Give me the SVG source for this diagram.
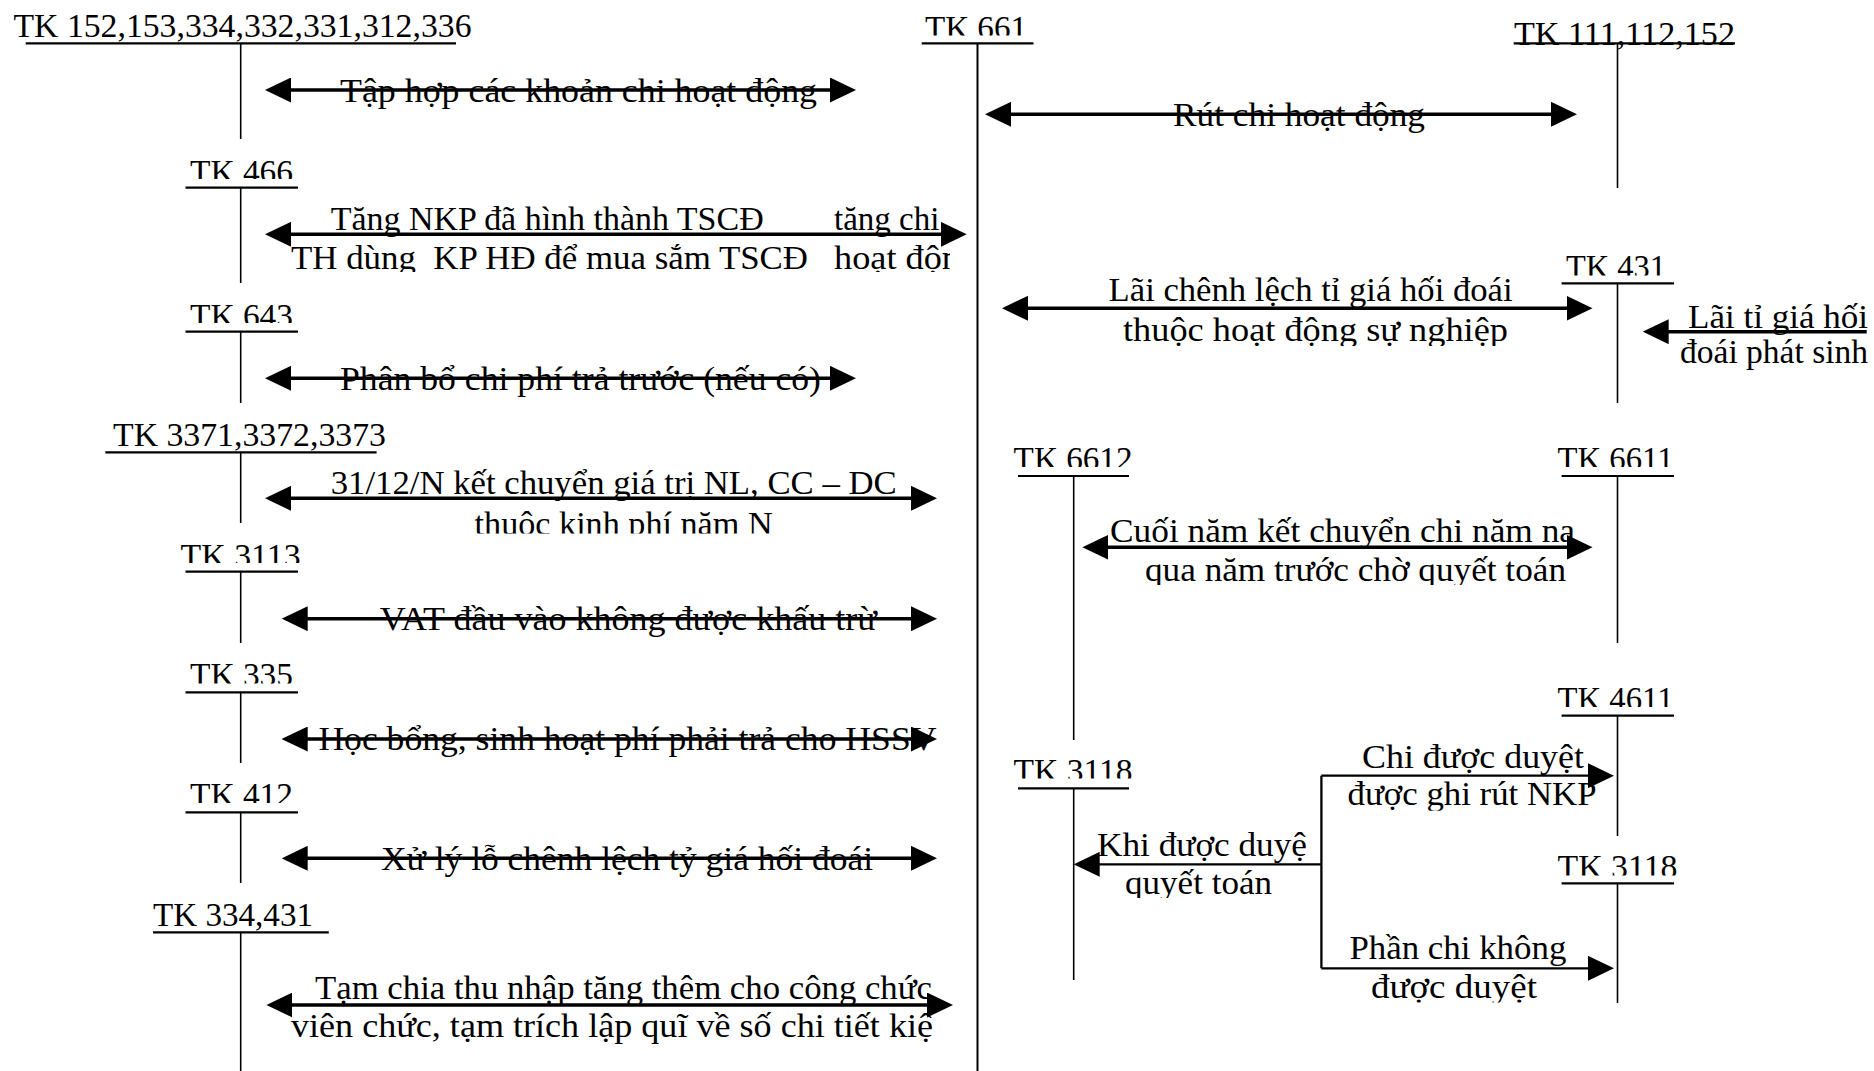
<svg xmlns="http://www.w3.org/2000/svg" width="1874" height="1071" viewBox="0 0 1874 1071">
  <style>
    .lbl { font-family: "Liberation Serif", "Times New Roman", serif; font-size: 33px; fill: #000; }
    .bar { stroke: #000; stroke-width: 2.2; fill: none; }
    .stem { stroke: #000; stroke-width: 1.6; fill: none; }
    .flow { stroke: #000; stroke-width: 3.4; fill: none; }
    .flow-thin { stroke: #000; stroke-width: 2.3; fill: none; }
    .dbl { marker-start: url(#head); marker-end: url(#head); }
    .one { marker-end: url(#head); }
  </style>
  <defs>
    <!-- solid arrowhead; tip sits 20px beyond the path end -->
    <marker id="head" viewBox="0 0 26 25" markerWidth="26" markerHeight="25" refX="6" refY="12.5" markerUnits="userSpaceOnUse" orient="auto-start-reverse">
      <path d="M0,0 L26,12.5 L0,25 Z" fill="#000"/>
    </marker>
    <!-- text-box clips for account titles -->
    <clipPath id="c661" clipPathUnits="userSpaceOnUse"><rect x="900" y="0" width="150" height="35.5"/></clipPath>
    <clipPath id="c466" clipPathUnits="userSpaceOnUse"><rect x="170" y="140" width="140" height="39"/></clipPath>
    <clipPath id="c643" clipPathUnits="userSpaceOnUse"><rect x="170" y="290" width="140" height="33"/></clipPath>
    <clipPath id="c3113" clipPathUnits="userSpaceOnUse"><rect x="170" y="530" width="140" height="33"/></clipPath>
    <clipPath id="c335" clipPathUnits="userSpaceOnUse"><rect x="170" y="650" width="140" height="33.5"/></clipPath>
    <clipPath id="c412" clipPathUnits="userSpaceOnUse"><rect x="170" y="770" width="140" height="33"/></clipPath>
    <clipPath id="c431" clipPathUnits="userSpaceOnUse"><rect x="1550" y="240" width="140" height="35.5"/></clipPath>
    <clipPath id="c6612" clipPathUnits="userSpaceOnUse"><rect x="1000" y="430" width="150" height="37"/></clipPath>
    <clipPath id="c6611" clipPathUnits="userSpaceOnUse"><rect x="1540" y="430" width="150" height="37"/></clipPath>
    <clipPath id="c4611" clipPathUnits="userSpaceOnUse"><rect x="1540" y="670" width="150" height="37"/></clipPath>
    <clipPath id="c3118a" clipPathUnits="userSpaceOnUse"><rect x="1000" y="740" width="150" height="38.5"/></clipPath>
    <clipPath id="c3118b" clipPathUnits="userSpaceOnUse"><rect x="1540" y="830" width="150" height="45.5"/></clipPath>
    <!-- text-box clips for flow captions -->
    <clipPath id="cTH" clipPathUnits="userSpaceOnUse"><rect x="280" y="238" width="540" height="34"/></clipPath>
    <clipPath id="cHoat" clipPathUnits="userSpaceOnUse"><rect x="820" y="238" width="130" height="34"/></clipPath>
    <clipPath id="cChi" clipPathUnits="userSpaceOnUse"><rect x="820" y="195" width="130" height="42"/></clipPath>
    <clipPath id="cKP" clipPathUnits="userSpaceOnUse"><rect x="460" y="505" width="330" height="28.5"/></clipPath>
    <clipPath id="cSN" clipPathUnits="userSpaceOnUse"><rect x="1110" y="312" width="410" height="34"/></clipPath>
    <clipPath id="cQua" clipPathUnits="userSpaceOnUse"><rect x="1130" y="552" width="450" height="33"/></clipPath>
    <clipPath id="cGhi" clipPathUnits="userSpaceOnUse"><rect x="1340" y="778" width="270" height="32.7"/></clipPath>
    <clipPath id="cQT" clipPathUnits="userSpaceOnUse"><rect x="1110" y="866" width="180" height="32"/></clipPath>
    <clipPath id="cDD" clipPathUnits="userSpaceOnUse"><rect x="1360" y="970" width="200" height="32.5"/></clipPath>
  </defs>

  <rect x="0" y="0" width="1874" height="1071" fill="#fff"/>

  <!-- T-accounts: title, top bar, stem -->
  <g id="tk-152">
    <text class="lbl" x="13.5" y="37" textLength="458" lengthAdjust="spacingAndGlyphs">TK 152,153,334,332,331,312,336</text>
    <line class="bar" x1="25.7" y1="43.3" x2="456" y2="43.3"/>
    <line class="stem" x1="240.7" y1="43.3" x2="240.7" y2="139"/>
  </g>
  <g id="tk-661">
    <text class="lbl" x="925" y="38.5" textLength="102" lengthAdjust="spacingAndGlyphs" clip-path="url(#c661)">TK 661</text>
    <line class="bar" x1="921.7" y1="43.3" x2="1033.5" y2="43.3"/>
    <line class="stem" x1="977.5" y1="43.3" x2="977.5" y2="1071" style="stroke-width:2"/>
  </g>
  <g id="tk-111">
    <text class="lbl" x="1514" y="44.5" textLength="221" lengthAdjust="spacingAndGlyphs">TK 111,112,152</text>
    <line class="bar" x1="1513.7" y1="43.3" x2="1735" y2="43.3"/>
    <line class="stem" x1="1617.5" y1="43.3" x2="1617.5" y2="188"/>
  </g>
  <g id="tk-466">
    <text class="lbl" x="190" y="183" textLength="103" lengthAdjust="spacingAndGlyphs" clip-path="url(#c466)">TK 466</text>
    <line class="bar" x1="185.5" y1="187.7" x2="298" y2="187.7"/>
    <line class="stem" x1="240.7" y1="187.7" x2="240.7" y2="283"/>
  </g>
  <g id="tk-643">
    <text class="lbl" x="190" y="327" textLength="103" lengthAdjust="spacingAndGlyphs" clip-path="url(#c643)">TK 643</text>
    <line class="bar" x1="185.5" y1="331.7" x2="298" y2="331.7"/>
    <line class="stem" x1="240.7" y1="331.7" x2="240.7" y2="403"/>
  </g>
  <g id="tk-3371">
    <text class="lbl" x="113" y="446" textLength="273" lengthAdjust="spacingAndGlyphs">TK 3371,3372,3373</text>
    <line class="bar" x1="105.3" y1="452.3" x2="376.6" y2="452.3"/>
    <line class="stem" x1="240.7" y1="452.3" x2="240.7" y2="523"/>
  </g>
  <g id="tk-3113">
    <text class="lbl" x="180.6" y="567" textLength="120" lengthAdjust="spacingAndGlyphs" clip-path="url(#c3113)">TK 3113</text>
    <line class="bar" x1="185.5" y1="571.7" x2="298" y2="571.7"/>
    <line class="stem" x1="240.7" y1="571.7" x2="240.7" y2="643"/>
  </g>
  <g id="tk-335">
    <text class="lbl" x="190" y="686" textLength="103" lengthAdjust="spacingAndGlyphs" clip-path="url(#c335)">TK 335</text>
    <line class="bar" x1="185.5" y1="692.3" x2="298" y2="692.3"/>
    <line class="stem" x1="240.7" y1="692.3" x2="240.7" y2="763"/>
  </g>
  <g id="tk-412">
    <text class="lbl" x="190" y="806" textLength="103" lengthAdjust="spacingAndGlyphs" clip-path="url(#c412)">TK 412</text>
    <line class="bar" x1="185.5" y1="812.3" x2="298" y2="812.3"/>
    <line class="stem" x1="240.7" y1="812.3" x2="240.7" y2="883"/>
  </g>
  <g id="tk-334-431">
    <text class="lbl" x="153" y="926" textLength="160" lengthAdjust="spacingAndGlyphs">TK 334,431</text>
    <line class="bar" x1="153" y1="932.3" x2="328.8" y2="932.3"/>
    <line class="stem" x1="240.7" y1="932.3" x2="240.7" y2="1071"/>
  </g>
  <g id="tk-431">
    <text class="lbl" x="1566" y="278" textLength="100" lengthAdjust="spacingAndGlyphs" clip-path="url(#c431)">TK 431</text>
    <line class="bar" x1="1561.6" y1="283.3" x2="1674" y2="283.3"/>
    <line class="stem" x1="1617.5" y1="283.3" x2="1617.5" y2="403"/>
  </g>
  <g id="tk-6612">
    <text class="lbl" x="1013.6" y="470" textLength="119" lengthAdjust="spacingAndGlyphs" clip-path="url(#c6612)">TK 6612</text>
    <line class="bar" x1="1018" y1="476" x2="1129" y2="476"/>
    <line class="stem" x1="1073.7" y1="476" x2="1073.7" y2="740"/>
  </g>
  <g id="tk-6611">
    <text class="lbl" x="1557.5" y="470" textLength="116" lengthAdjust="spacingAndGlyphs" clip-path="url(#c6611)">TK 6611</text>
    <line class="bar" x1="1561.6" y1="476" x2="1674" y2="476"/>
    <line class="stem" x1="1617.5" y1="476" x2="1617.5" y2="643"/>
  </g>
  <g id="tk-4611">
    <text class="lbl" x="1557.5" y="710" textLength="116" lengthAdjust="spacingAndGlyphs" clip-path="url(#c4611)">TK 4611</text>
    <line class="bar" x1="1561.6" y1="715.7" x2="1674" y2="715.7"/>
    <line class="stem" x1="1617.5" y1="715.7" x2="1617.5" y2="836"/>
  </g>
  <g id="tk-3118-a">
    <text class="lbl" x="1013.6" y="782" textLength="119" lengthAdjust="spacingAndGlyphs" clip-path="url(#c3118a)">TK 3118</text>
    <line class="bar" x1="1018" y1="788.3" x2="1129" y2="788.3"/>
    <line class="stem" x1="1073.7" y1="788.3" x2="1073.7" y2="980"/>
  </g>
  <g id="tk-3118-b">
    <text class="lbl" x="1557.5" y="878" textLength="120" lengthAdjust="spacingAndGlyphs" clip-path="url(#c3118b)">TK 3118</text>
    <line class="bar" x1="1561.6" y1="883.3" x2="1674" y2="883.3"/>
    <line class="stem" x1="1617.5" y1="883.3" x2="1617.5" y2="1003"/>
  </g>

  <!-- flows between accounts, with captions -->
  <g id="connectors">
    <g id="f-tap-hop">
      <path class="flow dbl" d="M285,90 H836"/>
      <text class="lbl" x="340" y="101.8" textLength="477" lengthAdjust="spacingAndGlyphs">Tập hợp các khoản chi hoạt động</text>
    </g>
    <g id="f-rut-chi">
      <path class="flow dbl" d="M1005,114.3 H1557"/>
      <text class="lbl" x="1173" y="126" textLength="252" lengthAdjust="spacingAndGlyphs">Rút chi hoạt động</text>
    </g>
    <g id="f-tscd">
      <path class="flow dbl" d="M285,234.3 H946.7"/>
      <text class="lbl" x="330.7" y="230" textLength="433" lengthAdjust="spacingAndGlyphs">Tăng NKP đã hình thành TSCĐ</text>
      <text class="lbl" x="834" y="230" clip-path="url(#cChi)">tăng chi</text>
      <text class="lbl" x="291" y="268.5" textLength="517" lengthAdjust="spacingAndGlyphs" xml:space="preserve" clip-path="url(#cTH)">TH dùng  KP HĐ để mua sắm TSCĐ</text>
      <text class="lbl" x="834" y="268.5" textLength="126" lengthAdjust="spacingAndGlyphs" clip-path="url(#cHoat)">hoạt độn</text>
    </g>
    <g id="f-phan-bo">
      <path class="flow dbl" d="M285,378.3 H836"/>
      <text class="lbl" x="340" y="390" textLength="481" lengthAdjust="spacingAndGlyphs">Phân bổ chi phí trả trước (nếu có)</text>
    </g>
    <g id="f-ket-chuyen-nl">
      <path class="flow dbl" d="M285,498.3 H917"/>
      <text class="lbl" x="330.7" y="493.5" textLength="566" lengthAdjust="spacingAndGlyphs">31/12/N kết chuyển giá trị NL, CC – DC</text>
      <text class="lbl" x="474.6" y="535" textLength="298" lengthAdjust="spacingAndGlyphs" clip-path="url(#cKP)">thuộc kinh phí năm N</text>
    </g>
    <g id="f-vat">
      <path class="flow dbl" d="M301.7,618.7 H917"/>
      <text class="lbl" x="379.7" y="630" textLength="497" lengthAdjust="spacingAndGlyphs">VAT đầu vào không được khấu trừ</text>
    </g>
    <g id="f-hoc-bong">
      <path class="flow dbl" d="M301.7,739 H917"/>
      <text class="lbl" x="318.4" y="750" textLength="618" lengthAdjust="spacingAndGlyphs">Học bổng, sinh hoạt phí phải trả cho HSSV</text>
    </g>
    <g id="f-lo-ty-gia">
      <path class="flow dbl" d="M301.7,858.3 H917"/>
      <text class="lbl" x="381" y="870" textLength="492" lengthAdjust="spacingAndGlyphs">Xử lý lỗ chênh lệch tỷ giá hối đoái</text>
    </g>
    <g id="f-tam-chia">
      <path class="flow dbl" d="M286.4,1005 H933"/>
      <text class="lbl" x="315" y="998.5" textLength="617" lengthAdjust="spacingAndGlyphs">Tạm chia thu nhập tăng thêm cho công chức</text>
      <text class="lbl" x="291" y="1037" textLength="642" lengthAdjust="spacingAndGlyphs">viên chức, tạm trích lập quĩ về số chi tiết kiệ</text>
    </g>
    <g id="f-lai-chenh-lech">
      <path class="flow dbl" d="M1022,308.3 H1572.5"/>
      <text class="lbl" x="1108.6" y="301" textLength="404" lengthAdjust="spacingAndGlyphs">Lãi chênh lệch tỉ giá hối đoái</text>
      <text class="lbl" x="1123" y="340.5" textLength="385" lengthAdjust="spacingAndGlyphs" clip-path="url(#cSN)">thuộc hoạt động sự nghiệp</text>
    </g>
    <g id="f-lai-phat-sinh">
      <path class="flow one" d="M1866.7,331.7 H1662.7"/>
      <text class="lbl" x="1688" y="327.5" textLength="180" lengthAdjust="spacingAndGlyphs">Lãi tỉ giá hối</text>
      <text class="lbl" x="1680" y="362.5" textLength="188" lengthAdjust="spacingAndGlyphs">đoái phát sinh</text>
    </g>
    <g id="f-cuoi-nam">
      <path class="flow dbl" d="M1102.4,547.3 H1572.5"/>
      <text class="lbl" x="1110" y="541.7" textLength="465" lengthAdjust="spacingAndGlyphs">Cuối năm kết chuyển chi năm na</text>
      <text class="lbl" x="1145" y="581" textLength="421" lengthAdjust="spacingAndGlyphs" clip-path="url(#cQua)">qua năm trước chờ quyết toán</text>
    </g>
    <g id="f-quyet-toan">
      <path class="flow-thin" d="M1321.4,775.7 V968.3"/>
      <path class="flow-thin one" d="M1321.4,775.7 H1594"/>
      <path class="flow-thin one" d="M1321.4,864.3 H1093.7"/>
      <path class="flow-thin one" d="M1321.4,968.3 H1594"/>
      <text class="lbl" x="1362" y="767.5" textLength="222" lengthAdjust="spacingAndGlyphs">Chi được duyệt</text>
      <text class="lbl" x="1347.6" y="805" textLength="249" lengthAdjust="spacingAndGlyphs" clip-path="url(#cGhi)">được ghi rút NKP</text>
      <text class="lbl" x="1097" y="856" textLength="210" lengthAdjust="spacingAndGlyphs">Khi được duyệ</text>
      <text class="lbl" x="1125" y="894" textLength="147" lengthAdjust="spacingAndGlyphs" clip-path="url(#cQT)">quyết toán</text>
      <text class="lbl" x="1349.4" y="959" textLength="217" lengthAdjust="spacingAndGlyphs">Phần chi không</text>
      <text class="lbl" x="1371" y="998" textLength="166" lengthAdjust="spacingAndGlyphs" clip-path="url(#cDD)">được duyệt</text>
    </g>
  </g>
</svg>
